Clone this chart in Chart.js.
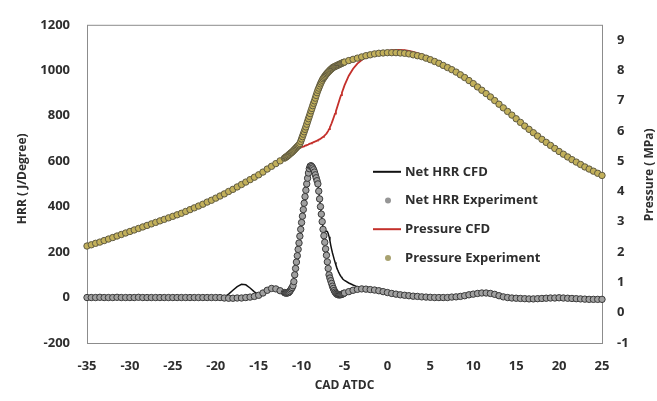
<!DOCTYPE html>
<html>
<head>
<meta charset="utf-8">
<script src="https://cdn.jsdelivr.net/npm/chart.js@4.4.1/dist/chart.umd.min.js"></script>
<style>
  html, body { margin: 0; padding: 0; background: #fff; }
</style>
</head>
<body>
<canvas id="chartHrr" width="657" height="401"></canvas>
<script>
// crank angle (deg ATDC) of every sample, finer around the main combustion
const cad = [
  -35, -34.5, -34, -33.5, -33, -32.5, -32, -31.5, -31, -30.5,
  -30, -29.5, -29, -28.5, -28, -27.5, -27, -26.5, -26, -25.5,
  -25, -24.5, -24, -23.5, -23, -22.5, -22, -21.5, -21, -20.5,
  -20, -19.5, -19, -18.5, -18, -17.5, -17, -16.5, -16, -15.5,
  -15, -14.5, -14, -13.5, -13, -12.5, -12,
  -11.9, -11.8, -11.7, -11.6, -11.5, -11.4, -11.3, -11.2, -11.1, -11.0,
  -10.9, -10.8, -10.7, -10.6, -10.5, -10.4, -10.3, -10.2, -10.1, -10.0,
  -9.9, -9.8, -9.7, -9.6, -9.5, -9.4, -9.3, -9.2, -9.1, -9.0,
  -8.9, -8.8, -8.7, -8.6, -8.5, -8.4, -8.3, -8.2, -8.1, -8.0,
  -7.9, -7.8, -7.7, -7.6, -7.5, -7.4, -7.3, -7.2, -7.1, -7.0,
  -6.9, -6.8, -6.7, -6.6, -6.5, -6.4, -6.3, -6.2, -6.1, -6.0,
  -5.9, -5.8, -5.7, -5.6, -5.5, -5.4, -5.3, -5.2, -5.1,
  -5, -4.5, -4, -3.5, -3, -2.5, -2, -1.5, -1, -0.5,
  0, 0.5, 1, 1.5, 2, 2.5, 3, 3.5, 4, 4.5,
  5, 5.5, 6, 6.5, 7, 7.5, 8, 8.5, 9, 9.5,
  10, 10.5, 11, 11.5, 12, 12.5, 13, 13.5, 14, 14.5,
  15, 15.5, 16, 16.5, 17, 17.5, 18, 18.5, 19, 19.5,
  20, 20.5, 21, 21.5, 22, 22.5, 23, 23.5, 24, 24.5,
  25
];

// net heat release rate, J/deg
const hrrCfd = [
  0, 0, 0, 0, 0, 0, 0, 0, 0, 0,
  0, 0, 0, 0, 0, 0, 0, 0, 0, 0,
  0, 0, 0, 0, 0, 0, 0, 0, 0, 0,
  0, 0, 3, 15, 32, 48, 58, 56, 42, 25,
  13, 22, 35, 40, 36, 25, 15,
  12, 11, 10, 11, 13, 17, 23, 30, 40, 52,
  70, 100, 128, 156, 184, 212, 240, 270, 300, 330,
  358, 387, 415, 444, 472, 500, 525, 548, 567, 578,
  580, 576, 570, 562, 552, 540, 527, 514, 500, 468,
  434, 400, 367, 334, 305, 292, 288, 290, 292, 290,
  282, 268, 250, 230, 212, 196, 182, 168, 155, 143,
  132, 122, 113, 105, 98, 92, 87, 82, 78,
  75, 64, 55, 47, 40, 34, 29, 25, 21, 18,
  15, 12, 10, 8, 6, 5, 4, 3, 2, 1,
  0, 0, 0, 0, 0, 0, 1, 3, 6, 9,
  12, 14, 15, 15, 13, 10, 6, 3, 0, -2,
  -3, -4, -5, -5, -5, -5, -4, -4, -3, -3,
  -3, -3, -4, -4, -5, -5, -6, -6, -7, -7,
  -7
];

const hrrExp = [
  0, 0, 0, 1, 0, 0, 0, 1, 0, 0,
  0, 0, 1, 0, 0, 0, 0, 0, 0, 0,
  0, 0, 0, 0, 0, 0, 0, 0, 0, 0,
  0, 0, -2, -3, -3, -2, -2, 0, 2, 5,
  10, 20, 32, 40, 38, 30, 22,
  20, 20, 20, 21, 22, 26, 32, 38, 44, 52,
  70, 100, 128, 156, 184, 212, 240, 270, 300, 330,
  358, 387, 415, 444, 472, 500, 525, 548, 567, 578,
  580, 576, 570, 562, 552, 540, 527, 514, 500, 468,
  434, 400, 367, 334, 300, 272, 243, 214, 186, 157,
  128, 100, 86, 74, 62, 50, 40, 31, 24, 19,
  15, 13, 12, 12, 12, 13, 14, 16, 18,
  20, 26, 32, 36, 38, 37, 35, 33, 30, 26,
  22, 18, 15, 12, 10, 8, 6, 5, 3, 2,
  1, 0, 0, 0, 0, 2, 3, 5, 8, 12,
  15, 18, 20, 20, 18, 14, 8, 3, 0, -2,
  -3, -4, -5, -6, -6, -5, -4, -3, -2, -2,
  -1, -2, -3, -4, -5, -6, -7, -8, -8, -8,
  -8
];

// cylinder pressure, MPa
const presCfd = [
  2.20, 2.24, 2.29, 2.33, 2.38, 2.43, 2.48, 2.53, 2.58, 2.63,
  2.68, 2.73, 2.78, 2.83, 2.88, 2.93, 2.98, 3.03, 3.08, 3.13,
  3.18, 3.23, 3.28, 3.34, 3.40, 3.46, 3.52, 3.58, 3.65, 3.71,
  3.78, 3.85, 3.92, 4.00, 4.07, 4.15, 4.23, 4.31, 4.39, 4.47,
  4.55, 4.64, 4.74, 4.83, 4.92, 5.01, 5.10,
  5.12, 5.14, 5.16, 5.18, 5.21, 5.23, 5.26, 5.28, 5.30, 5.33,
  5.35, 5.37, 5.38, 5.40, 5.41, 5.42, 5.43, 5.44, 5.45, 5.46,
  5.47, 5.48, 5.49, 5.51, 5.52, 5.53, 5.54, 5.55, 5.57, 5.58,
  5.59, 5.60, 5.61, 5.63, 5.64, 5.65, 5.66, 5.68, 5.69, 5.71,
  5.72, 5.74, 5.76, 5.78, 5.80, 5.82, 5.85, 5.88, 5.91, 5.95,
  6.00, 6.06, 6.12, 6.18, 6.25, 6.33, 6.41, 6.49, 6.57, 6.65,
  6.74, 6.83, 6.92, 7.01, 7.10, 7.18, 7.26, 7.34, 7.42,
  7.50, 7.82, 8.05, 8.22, 8.34, 8.43, 8.50, 8.55, 8.59, 8.62,
  8.64, 8.66, 8.67, 8.67, 8.66, 8.64, 8.61, 8.57, 8.52, 8.46,
  8.40, 8.33, 8.26, 8.18, 8.10, 8.02, 7.94, 7.85, 7.76, 7.66,
  7.56, 7.45, 7.34, 7.23, 7.12, 7.00, 6.88, 6.76, 6.64, 6.52,
  6.40, 6.28, 6.16, 6.05, 5.94, 5.83, 5.72, 5.62, 5.52, 5.42,
  5.32, 5.23, 5.14, 5.05, 4.97, 4.89, 4.81, 4.74, 4.67, 4.60,
  4.53
];

const presExp = [
  2.20, 2.24, 2.29, 2.33, 2.38, 2.43, 2.48, 2.53, 2.58, 2.63,
  2.68, 2.73, 2.78, 2.83, 2.88, 2.93, 2.98, 3.03, 3.08, 3.13,
  3.18, 3.23, 3.28, 3.34, 3.40, 3.46, 3.52, 3.58, 3.65, 3.71,
  3.78, 3.85, 3.92, 4.00, 4.07, 4.15, 4.23, 4.31, 4.39, 4.47,
  4.55, 4.64, 4.74, 4.83, 4.92, 5.01, 5.10,
  5.12, 5.14, 5.16, 5.18, 5.21, 5.23, 5.26, 5.28, 5.30, 5.33,
  5.36, 5.39, 5.42, 5.45, 5.48, 5.51, 5.54, 5.58, 5.65, 5.73,
  5.81, 5.89, 5.97, 6.05, 6.13, 6.22, 6.31, 6.40, 6.48, 6.57,
  6.66, 6.74, 6.83, 6.91, 6.99, 7.08, 7.17, 7.26, 7.34, 7.41,
  7.48, 7.55, 7.61, 7.67, 7.72, 7.76, 7.80, 7.84, 7.88, 7.91,
  7.94, 7.97, 8.00, 8.03, 8.05, 8.08, 8.10, 8.11, 8.13, 8.14,
  8.15, 8.17, 8.18, 8.19, 8.21, 8.22, 8.23, 8.25, 8.26,
  8.27, 8.32, 8.36, 8.40, 8.44, 8.48, 8.51, 8.54, 8.56, 8.57,
  8.58, 8.58, 8.58, 8.57, 8.56, 8.54, 8.51, 8.48, 8.45, 8.40,
  8.35, 8.29, 8.23, 8.16, 8.09, 8.02, 7.94, 7.85, 7.76, 7.66,
  7.56, 7.45, 7.34, 7.23, 7.12, 7.00, 6.88, 6.76, 6.64, 6.52,
  6.40, 6.28, 6.16, 6.05, 5.94, 5.83, 5.72, 5.62, 5.52, 5.42,
  5.32, 5.23, 5.14, 5.05, 4.97, 4.89, 4.81, 4.74, 4.67, 4.60,
  4.53
];

const seriesNames = ['Net HRR CFD', 'Net HRR Experiment', 'Pressure CFD', 'Pressure Experiment'];

const FONT = '"Open Sans", Lato, sans-serif';
const TXT = '#2e2e2e';

function pts(ys) {
  return cad.map((x, i) => ({ x: x, y: ys[i] }));
}

// plot frame, both axis titles (read bottom-up) and the legend inside the plot
const extras = {
  id: 'extras',
  beforeDatasetsDraw(chart) {
    const { ctx, chartArea: a } = chart;
    ctx.save();
    ctx.strokeStyle = '#8c8c8c';
    ctx.lineWidth = 1;
    ctx.strokeRect(a.left + 0.5, a.top + 0.5, a.right - a.left, a.bottom - a.top);
    ctx.restore();
  },
  afterDraw(chart) {
    const { ctx, chartArea: a } = chart;
    ctx.save();
    ctx.fillStyle = TXT;
    ctx.font = 'bold 12px ' + FONT;
    ctx.textAlign = 'center';
    ctx.textBaseline = 'middle';
    ctx.translate(a.left - 64, a.top + 154);
    ctx.rotate(-Math.PI / 2);
    ctx.fillText('HRR ( J/Degree)', 0, 0);
    ctx.restore();

    ctx.save();
    ctx.fillStyle = TXT;
    ctx.font = 'bold 12px ' + FONT;
    ctx.textAlign = 'center';
    ctx.textBaseline = 'middle';
    ctx.translate(a.right + 48, a.top + 150);
    ctx.rotate(-Math.PI / 2);
    ctx.fillText('Pressure ( MPa)', 0, 0);
    ctx.restore();

    const lx = a.left + 286;
    const ly = a.top + 147;
    ctx.save();
    ctx.font = 'bold 13px ' + FONT;
    ctx.textBaseline = 'middle';
    chart.data.datasets.forEach((ds, i) => {
      const y = ly + i * 28.7;
      if (ds.showLine) {
        ctx.strokeStyle = ds.borderColor;
        ctx.lineWidth = 2;
        ctx.beginPath();
        ctx.moveTo(lx, y);
        ctx.lineTo(lx + 28, y);
        ctx.stroke();
      } else {
        ctx.fillStyle = ds.legendDot;
        ctx.beginPath();
        ctx.arc(lx + 15, y, 3, 0, Math.PI * 2);
        ctx.fill();
      }
      ctx.fillStyle = TXT;
      ctx.fillText(ds.label, lx + 32, y);
    });
    ctx.restore();
  }
};

const tickFont = { family: FONT, size: 13, weight: 'bold' };
const plainNum = v => String(v);

const ctx = document.getElementById('chartHrr').getContext('2d');
const myChart = new Chart(ctx, {
  type: 'scatter',
  data: {
    datasets: [
      {
        label: seriesNames[0],
        data: pts(hrrCfd),
        yAxisID: 'y',
        showLine: true,
        borderColor: '#111111',
        borderWidth: 1.5,
        pointRadius: 0,
        order: 1,
        clip: false
      },
      {
        label: seriesNames[1],
        data: pts(hrrExp),
        yAxisID: 'y',
        showLine: false,
        pointRadius: 3.2,
        pointBorderWidth: 1,
        pointBackgroundColor: '#a0a0a0',
        pointBorderColor: '#383838',
        legendDot: '#969696',
        order: 0,
        clip: false
      },
      {
        label: seriesNames[2],
        data: pts(presCfd),
        yAxisID: 'y1',
        showLine: true,
        borderColor: '#c4302b',
        borderWidth: 1.8,
        pointRadius: 0,
        order: 1,
        clip: false
      },
      {
        label: seriesNames[3],
        data: pts(presExp),
        yAxisID: 'y1',
        showLine: false,
        pointRadius: 3.2,
        pointBorderWidth: 1,
        pointBackgroundColor: '#c2b05a',
        pointBorderColor: '#5f5a42',
        legendDot: '#a8a270',
        order: 0,
        clip: false
      }
    ]
  },
  options: {
    responsive: false,
    animation: false,
    devicePixelRatio: 1,
    layout: { padding: { top: 14, left: 0, right: 0, bottom: 0 } },
    plugins: {
      legend: { display: false },
      tooltip: { enabled: false }
    },
    scales: {
      x: {
        type: 'linear',
        min: -35,
        max: 25,
        grid: { display: false, drawTicks: false },
        border: { display: false },
        ticks: { stepSize: 5, padding: 15, color: TXT, font: tickFont, callback: plainNum },
        title: { display: true, text: 'CAD ATDC', color: TXT, font: { family: FONT, size: 12, weight: 'bold' }, padding: { top: 0, bottom: 8 } },
        afterFit: s => { s.height = 58; }
      },
      y: {
        position: 'left',
        min: -200,
        max: 1200,
        grid: { display: false, drawTicks: false },
        border: { display: false },
        ticks: { stepSize: 200, padding: 17, color: TXT, font: tickFont, callback: plainNum },
        afterFit: s => { s.width = 87; }
      },
      y1: {
        position: 'right',
        min: -1,
        max: 9.5,
        grid: { display: false, drawTicks: false },
        border: { display: false },
        ticks: { stepSize: 1, includeBounds: false, padding: 15, color: TXT, font: tickFont, callback: plainNum },
        afterFit: s => { s.width = 55; }
      }
    }
  },
  plugins: [extras]
});
</script>
</body>
</html>
